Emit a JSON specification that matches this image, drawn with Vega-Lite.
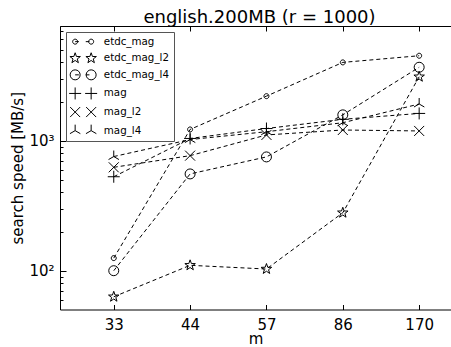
{
  "$schema": "https://vega.github.io/schema/vega-lite/v6.json",
  "width": 391,
  "height": 283.5,
  "autosize": {"type": "none"},
  "padding": {"left": 60, "top": 26, "right": 0, "bottom": 37.5},
  "title": {"text": "english.200MB (r = 1000)", "fontSize": 18, "fontWeight": "normal", "font": "DejaVu Sans", "color": "black", "baseline": "alphabetic", "offset": -15.2, "dx": 4, "frame": "group"},
  "config": {
    "view": {"stroke": null},
    "font": "DejaVu Sans",
    "axis": {"grid": false, "domain": true, "domainColor": "black", "domainWidth": 1, "tickColor": "black", "labelColor": "black", "titleColor": "black", "labelFont": "DejaVu Sans", "titleFont": "DejaVu Sans", "labelFontSize": 15, "titleFontSize": 15, "titleFontWeight": "normal"}
  },
  "data": {"values": [
    {"series": "etdc_mag", "i": 0, "m": 33, "speed": 125},
    {"series": "etdc_mag", "i": 1, "m": 44, "speed": 1220},
    {"series": "etdc_mag", "i": 2, "m": 57, "speed": 2200},
    {"series": "etdc_mag", "i": 3, "m": 86, "speed": 4000},
    {"series": "etdc_mag", "i": 4, "m": 170, "speed": 4500},
    {"series": "etdc_mag_l2", "i": 0, "m": 33, "speed": 63},
    {"series": "etdc_mag_l2", "i": 1, "m": 44, "speed": 110},
    {"series": "etdc_mag_l2", "i": 2, "m": 57, "speed": 103},
    {"series": "etdc_mag_l2", "i": 3, "m": 86, "speed": 279},
    {"series": "etdc_mag_l2", "i": 4, "m": 170, "speed": 3100},
    {"series": "etdc_mag_l4", "i": 0, "m": 33, "speed": 100},
    {"series": "etdc_mag_l4", "i": 1, "m": 44, "speed": 555},
    {"series": "etdc_mag_l4", "i": 2, "m": 57, "speed": 750},
    {"series": "etdc_mag_l4", "i": 3, "m": 86, "speed": 1580},
    {"series": "etdc_mag_l4", "i": 4, "m": 170, "speed": 3670},
    {"series": "mag", "i": 0, "m": 33, "speed": 528},
    {"series": "mag", "i": 1, "m": 44, "speed": 1040},
    {"series": "mag", "i": 2, "m": 57, "speed": 1240},
    {"series": "mag", "i": 3, "m": 86, "speed": 1460},
    {"series": "mag", "i": 4, "m": 170, "speed": 1620},
    {"series": "mag_l2", "i": 0, "m": 33, "speed": 624},
    {"series": "mag_l2", "i": 1, "m": 44, "speed": 767},
    {"series": "mag_l2", "i": 2, "m": 57, "speed": 1107},
    {"series": "mag_l2", "i": 3, "m": 86, "speed": 1208},
    {"series": "mag_l2", "i": 4, "m": 170, "speed": 1188},
    {"series": "mag_l4", "i": 0, "m": 33, "speed": 755},
    {"series": "mag_l4", "i": 1, "m": 44, "speed": 1020},
    {"series": "mag_l4", "i": 2, "m": 57, "speed": 1172},
    {"series": "mag_l4", "i": 3, "m": 86, "speed": 1374},
    {"series": "mag_l4", "i": 4, "m": 170, "speed": 1914}
  ]},
  "resolve": {"axis": {"x": "independent", "y": "independent"}, "scale": {"shape": "independent"}},
  "layer": [
    {
      "mark": {"type": "line", "color": "black", "strokeWidth": 1, "strokeDash": [4, 3]},
      "encoding": {
        "x": {"field": "i", "type": "quantitative", "scale": {"domain": [-0.704, 4.417], "nice": false, "zero": false},
              "axis": {"orient": "bottom", "values": [0, 1, 2, 3, 4], "labelExpr": "['33','44','57','86','170'][datum.value]", "tickSize": -5, "labelPadding": 24.5, "labelBaseline": "alphabetic", "title": "m", "titleY": 33.5, "titleBaseline": "alphabetic"}},
        "y": {"field": "speed", "type": "quantitative", "scale": {"type": "log", "domain": [50.3, 7620], "nice": false},
              "axis": {"orient": "left", "values": [100, 1000], "labelExpr": "datum.value == 100 ? '10²' : '10³'", "tickSize": -6, "labelPadding": 12, "labelBaseline": "middle", "title": "search speed [MB/s]", "titleX": -43, "titleBaseline": "middle"}},
        "detail": {"field": "series"}
      }
    },
    {
      "mark": {"type": "point", "filled": false, "color": "black", "strokeWidth": 1, "opacity": 1, "size": 144},
      "encoding": {
        "x": {"field": "i", "type": "quantitative",
              "axis": {"orient": "top", "values": [0, 1, 2, 3, 4], "labels": false, "tickSize": -5, "title": null}},
        "y": {"field": "speed", "type": "quantitative",
              "axis": {"orient": "left", "values": [60, 70, 80, 90, 200, 300, 400, 500, 600, 700, 800, 900, 2000, 3000, 4000, 5000, 6000, 7000], "labels": false, "tickSize": -3, "title": null}},
        "shape": {"field": "series", "type": "nominal",
          "scale": {
            "domain": ["etdc_mag", "etdc_mag_l2", "etdc_mag_l4", "mag", "mag_l2", "mag_l4"],
            "range": [
              "M0.417,0A0.417,0.417 0 1,1 -0.417,0A0.417,0.417 0 1,1 0.417,0Z",
              "M0,-0.917L0.215,-0.297L0.872,-0.283L0.348,0.114L0.539,0.742L0,0.367L-0.539,0.742L-0.348,0.114L-0.872,-0.283L-0.215,-0.297Z",
              "M0.833,0A0.833,0.833 0 1,1 -0.833,0A0.833,0.833 0 1,1 0.833,0Z",
              "M-1,0L1,0M0,-1L0,1",
              "M-0.833,-0.833L0.833,0.833M-0.833,0.833L0.833,-0.833",
              "M0,0L0,-1M0,0L-0.866,0.5M0,0L0.866,0.5"
            ]
          },
          "legend": null
        }
      }
    },
    {
      "mark": {"type": "point", "filled": false, "color": "black", "strokeWidth": 1, "opacity": 0, "size": 4},
      "encoding": {
        "x": {"field": "i", "type": "quantitative", "axis": null},
        "y": {"field": "speed", "type": "quantitative", "axis": null},
        "shape": {"field": "series", "type": "nominal",
          "scale": {
            "domain": ["etdc_mag", "etdc_mag_l2", "etdc_mag_l4", "mag", "mag_l2", "mag_l4"],
            "range": [
              "M2,0A2.5,2.5 0 1,1 -3,0A2.5,2.5 0 1,1 2,0ZM18,0A2.5,2.5 0 1,1 13,0A2.5,2.5 0 1,1 18,0ZM-0.5,0L3.2,0M10.1,0L13.8,0",
              "M-0.5,-5.5L0.79,-1.78L4.73,-1.7L1.59,0.68L2.73,4.45L-0.5,2.2L-3.73,4.45L-2.59,0.68L-5.73,-1.7L-1.79,-1.78ZM15.5,-5.5L16.79,-1.78L20.73,-1.7L17.59,0.68L18.73,4.45L15.5,2.2L12.27,4.45L13.41,0.68L10.27,-1.7L14.21,-1.78Z",
              "M4.5,0A5,5 0 1,1 -5.5,0A5,5 0 1,1 4.5,0ZM20.5,0A5,5 0 1,1 10.5,0A5,5 0 1,1 20.5,0ZM-0.5,0L3.2,0M10.1,0L13.8,0",
              "M-6.5,0L5.5,0M-0.5,-6L-0.5,6M9.5,0L21.5,0M15.5,-6L15.5,6",
              "M-5.5,-5L4.5,5M-5.5,5L4.5,-5M10.5,-5L20.5,5M10.5,5L20.5,-5",
              "M-0.5,0L-0.5,-6M-0.5,0L-5.7,3M-0.5,0L4.7,3M15.5,0L15.5,-6M15.5,0L10.3,3M15.5,0L20.7,3"
            ]
          },
          "legend": {
            "orient": "top-left", "offset": 6, "title": null, "padding": 4.5,
            "strokeColor": "#555", "fillColor": "white", "cornerRadius": 0,
            "labelFontSize": 10.3, "labelFont": "DejaVu Sans", "labelColor": "black",
            "symbolSize": 4, "labelOffset": 23, "rowPadding": 2.6,
            "symbolStrokeWidth": 1, "symbolStrokeColor": "black", "symbolFillColor": "transparent", "symbolOpacity": 1
          }
        }
      }
    }
  ]
}
